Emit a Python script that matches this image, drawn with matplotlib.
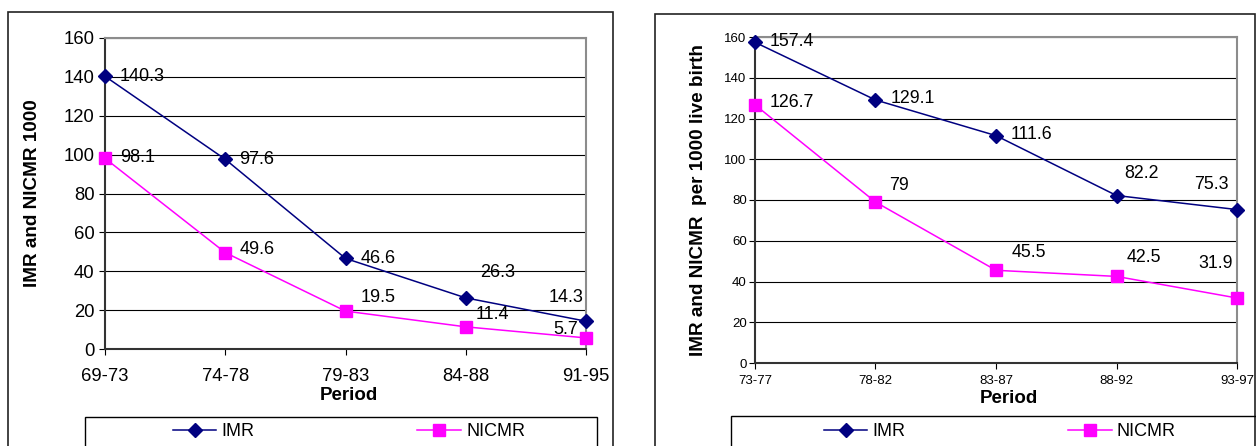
import matplotlib
matplotlib.use('Agg')
from matplotlib import pyplot as plt
from matplotlib.patches import Rectangle
from matplotlib.lines import Line2D

plt.rcParams['font.family'] = ['Liberation Sans', 'DejaVu Sans']

# left chart data
periods_a = ['69-73', '74-78', '79-83', '84-88', '91-95']
imr_a = [140.3, 97.6, 46.6, 26.3, 14.3]
nicmr_a = [98.1, 49.6, 19.5, 11.4, 5.7]

# right chart data
periods_b = ['73-77', '78-82', '83-87', '88-92', '93-97']
imr_b = [157.4, 129.1, 111.6, 82.2, 75.3]
nicmr_b = [126.7, 79, 45.5, 42.5, 31.9]

W, H = 1256, 446
fig = plt.figure(figsize=(W / 100, H / 100), dpi=100)

def box(x0, y0, x1, y1):
    # pixel box (top-left origin) -> figure fraction
    return [x0 / W, 1 - y1 / H, (x1 - x0) / W, (y1 - y0) / H]

def panel(rect, cats, imr, nicmr, offs_imr, offs_nicmr, ylabel, ylab_fs, ylab_x, per_xy,
          tick_fs, ann_fs, xpad, ypad):
    ax = fig.add_axes(rect)
    x = range(len(cats))
    ax.plot(x, imr, color='#000080', marker='D', ms=7, lw=1.1, label='IMR', zorder=3, clip_on=False)
    ax.plot(x, nicmr, color='#FF00FF', marker='s', ms=9, lw=1.1, label='NICMR', zorder=3, clip_on=False)
    for xs, vals, offs in ((x, imr, offs_imr), (x, nicmr, offs_nicmr)):
        for xi, v, (dx, dy) in zip(xs, vals, offs):
            ax.annotate('{:g}'.format(v), (xi, v), xytext=(dx, dy), textcoords='offset pixels',
                        ha='left' if dx >= 0 else 'right', va='center', fontsize=ann_fs, zorder=4)
    ax.set_xlim(0, len(cats) - 1)
    ax.set_ylim(0, 160)
    ax.set_yticks(range(0, 161, 20))
    ax.set_xticks(list(x))
    ax.set_xticklabels(cats)
    ax.grid(axis='y', color='#000000', lw=0.8)
    ax.set_axisbelow(True)
    for s in ('top', 'right'):
        ax.spines[s].set_color('#8c8c8c')
        ax.spines[s].set_linewidth(1.5)
    for s in ('left', 'bottom'):
        ax.spines[s].set_color('#333333')
        ax.spines[s].set_linewidth(1.5)
    ax.tick_params(axis='x', labelsize=tick_fs, length=4, pad=xpad, colors='#000000')
    ax.tick_params(axis='y', labelsize=tick_fs, length=4, pad=ypad, colors='#000000')
    ax.set_ylabel(ylabel, fontweight='bold', fontsize=ylab_fs)
    ax.yaxis.set_label_coords(ylab_x, 0.5)
    ax.set_xlabel('Period', fontweight='bold', fontsize=13.5)
    ax.xaxis.set_label_coords(*per_xy)
    ax.xaxis.label.set_va('center')
    return ax

ax1 = panel(box(105, 38, 586, 349), periods_a, imr_a, nicmr_a,
            [(15, 0), (14, 0), (15, 0), (14, 25), (-3, 24)],
            [(15, 1), (14, 3), (15, 14), (10, 12), (-8, 8)],
            'IMR and NICMR 1000', 13.6, -0.133, (0.507, -0.148), 13.3, 13, 10, 3.5)
ax2 = panel(box(755, 37, 1237, 363), periods_b, imr_b, nicmr_b,
            [(15, 1), (15, 1), (15, 1), (8, 22), (-8, 25)],
            [(15, 2), (14, 17), (16, 18), (10, 19), (-4, 35)],
            'IMR and NICMR  per 1000 live birth', 13.6, -0.0996, (0.527, -0.108), 9.5, 12.8, 5, 2)

# outer chart borders and legend boxes (run off the bottom edge)
for x0, y0, x1 in ((8, 12, 613), (655, 14, 1255)):
    fig.add_artist(Rectangle((x0 / W, -0.1), (x1 - x0) / W, 1.1 - y0 / H, transform=fig.transFigure,
                             fill=False, ec='#222222', lw=1.2))
for x0, y0, x1 in ((85, 417, 597), (731, 416, 1262)):
    fig.add_artist(Rectangle((x0 / W, -0.1), (x1 - x0) / W, 0.1 + 1 - y0 / H, transform=fig.transFigure,
                             fill=False, ec='#000000', lw=1.0))

handles = [Line2D([], [], color='#000080', marker='D', ms=7, lw=1.1),
           Line2D([], [], color='#FF00FF', marker='s', ms=9, lw=1.1)]
for cx in (349, 1000):
    fig.legend(handles, ['IMR', 'NICMR'], loc='center', bbox_to_anchor=(cx / W, 1 - 432 / H),
               ncol=2, frameon=False, fontsize=13, handlelength=2.4, handletextpad=0.3,
               columnspacing=9.0, borderpad=0)

fig.savefig('out.png', dpi=100)
